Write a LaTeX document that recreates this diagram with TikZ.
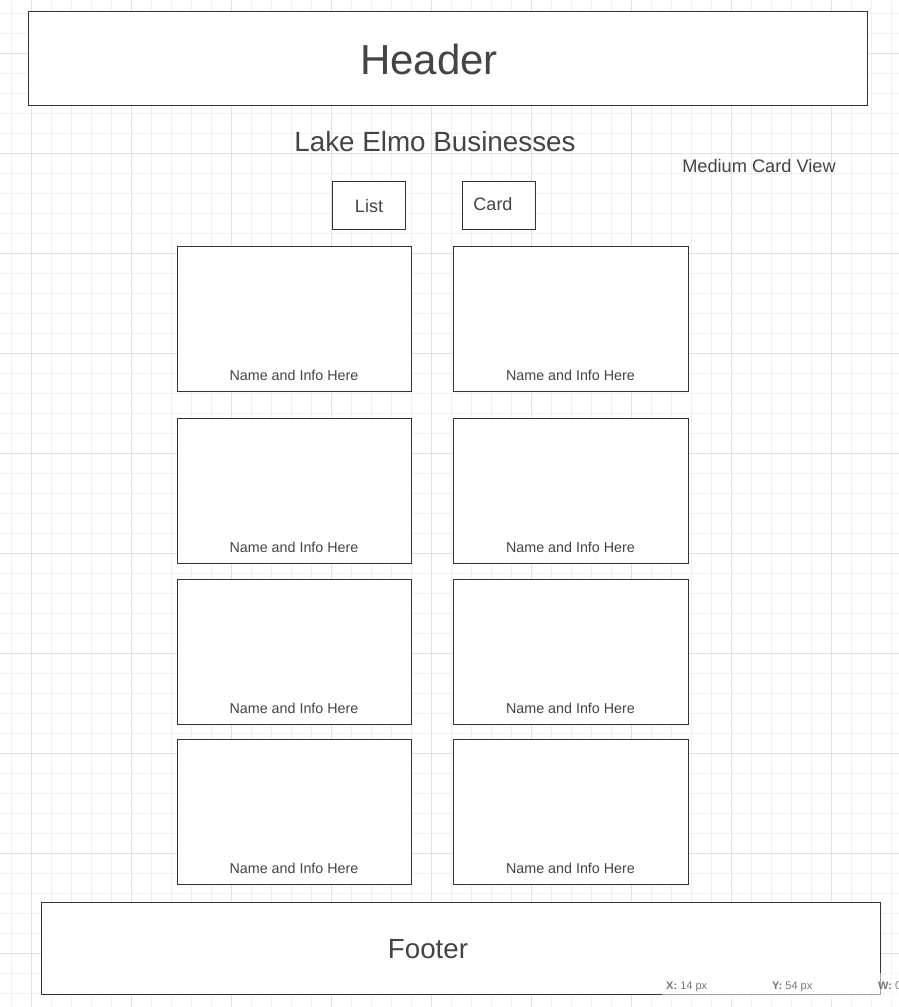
\documentclass[tikz,border=0pt]{standalone}
\usepackage{fontspec}
\setmainfont{Liberation Sans}
\definecolor{ink}{HTML}{444444}
\definecolor{edge}{HTML}{333333}
\definecolor{gminor}{HTML}{F0F0F0}
\definecolor{gmajor}{HTML}{E2E2E2}
\definecolor{stat}{HTML}{777777}
\tikzset{
  wire/.style={draw=edge, line width=0.9pt, fill=white},
  lbl/.style={text=ink, inner sep=0pt, anchor=base},
}
\newcommand{\fs}[1]{\fontsize{#1}{#1}\selectfont}
\begin{document}
\begin{tikzpicture}[x=1pt,y=-1pt]
\useasboundingbox (0,0) rectangle (899,1007);
\fill[white] (0,0) rectangle (899,1007);
% grid
\foreach \i in {0,...,44} {
  \draw[gminor, line width=0.8pt] ({11.7+20*\i},0) -- ({11.7+20*\i},1007);
}
\foreach \i in {0,...,49} {
  \draw[gminor, line width=0.8pt] (0,{13.3+20*\i}) -- (899,{13.3+20*\i});
}
\foreach \i in {0,...,8} {
  \draw[gmajor, line width=0.8pt] ({31.7+100*\i},0) -- ({31.7+100*\i},1007);
}
\foreach \i in {0,...,9} {
  \draw[gmajor, line width=0.8pt] (0,{53.3+100*\i}) -- (899,{53.3+100*\i});
}
% header
\draw[wire] (28,11) rectangle (867,105);
\node (hdr) at (447.5,58) {};
\node[lbl] (htxt) at (429,74) {\fs{42}Header};
% title
\node[lbl] (title) at (435,151) {\fs{27.8}Lake Elmo Businesses};
\node[lbl] (mcv) at (759,172.7) {\fs{18.2}Medium Card View};
% buttons
\draw[wire] (332,181) rectangle (405,229);
\node[lbl] (list) at (369,212.3) {\fs{18}List};
\draw[wire] (462,181) rectangle (535,229);
\node[lbl] (card) at (493,210.7) {\fs{18}Card};
% cards
\foreach \t/\b [count=\r] in {246/391, 418/563, 579/724, 739/884} {
  \draw[wire] (177,\t) rectangle (411,\b);
  \node[lbl] (cl\r) at (294,{\b-11}) {\fs{14.3}Name and Info Here};
  \draw[wire] (453,\t) rectangle (688,\b);
  \node[lbl] (cr\r) at (570.5,{\b-11}) {\fs{14.3}Name and Info Here};
}
% footer
\draw[wire] (41,902) rectangle (880,994);
\node[lbl] (ftr) at (428,958) {\fs{27.7}Footer};
% status overlay
\fill[white, opacity=0.55] (662,972.5) rectangle (899,1002);
\node[lbl, text=stat, anchor=base west] (sx) at (666,989) {\fs{11}\textbf{X:} 14 px};
\node[lbl, text=stat, anchor=base west] (sy) at (772,989) {\fs{11}\textbf{Y:} 54 px};
\node[lbl, text=stat, anchor=base west] (sw) at (878,989) {\fs{11}\textbf{W:} 0};
\end{tikzpicture}
\end{document}
